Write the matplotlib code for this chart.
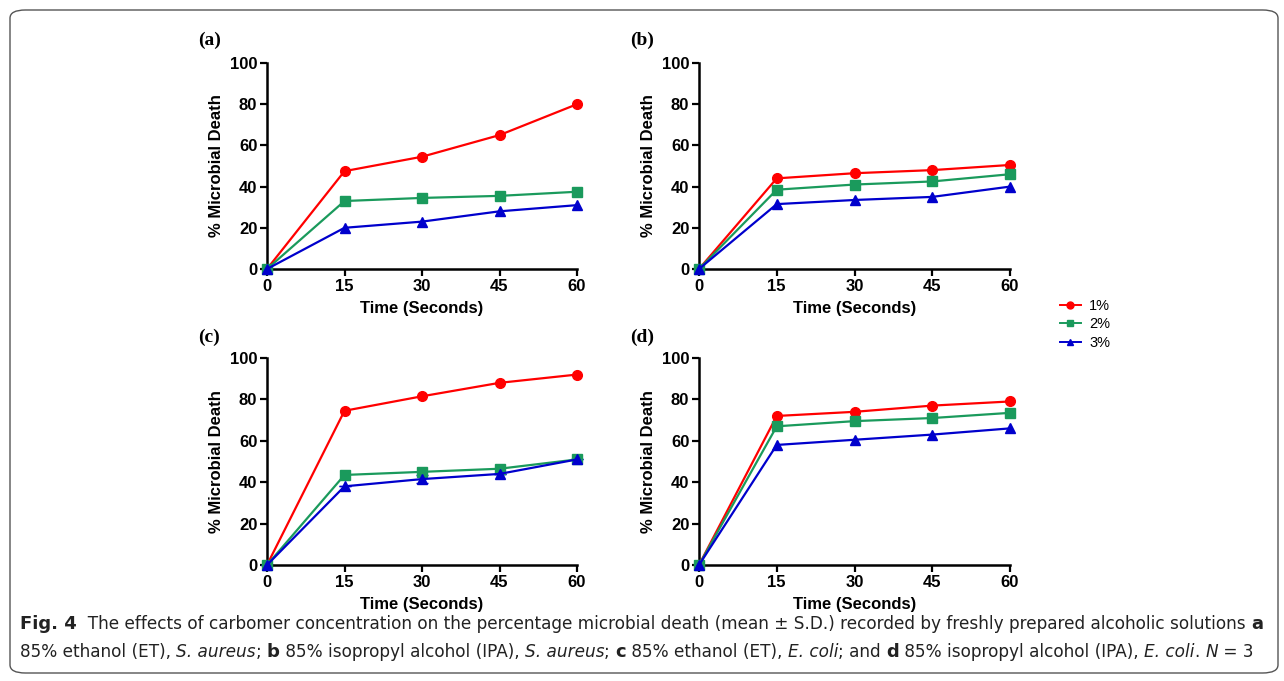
import matplotlib
matplotlib.use("Agg")
import matplotlib.pyplot as plt
from matplotlib.patches import FancyBboxPatch
from matplotlib.lines import Line2D

time_s = [0, 15, 30, 45, 60]
series_labels = ["1%", "2%", "3%"]
panel_labels = ["(a)", "(b)", "(c)", "(d)"]

a_1 = [0, 47.5, 54.5, 65, 80]
a_2 = [0, 33, 34.5, 35.5, 37.5]
a_3 = [0, 20, 23, 28, 31]

b_1 = [0, 44, 46.5, 48, 50.5]
b_2 = [0, 38.5, 41, 42.5, 46]
b_3 = [0, 31.5, 33.5, 35, 40]

c_1 = [0, 74.5, 81.5, 88, 92]
c_2 = [0, 43.5, 45, 46.5, 51]
c_3 = [0, 38, 41.5, 44, 51]
c_3_err = [0, 0, 2, 0, 0]

d_1 = [0, 72, 74, 77, 79]
d_2 = [0, 67, 69.5, 71, 73.5]
d_3 = [0, 58, 60.5, 63, 66]

panels = [(a_1, a_2, a_3), (b_1, b_2, b_3), (c_1, c_2, c_3), (d_1, d_2, d_3)]

colors = ["#ff0000", "#1a9a5c", "#0000cc"]
markers = ["o", "s", "^"]

W, H = 1284, 681
fig = plt.figure(figsize=(W / 100, H / 100), dpi=100)

# frame
frame = FancyBboxPatch((10 / W, 8 / H), 1268 / W, 663 / H,
                       boxstyle="round,pad=0,rounding_size=0.012",
                       transform=fig.transFigure, fill=False,
                       edgecolor="#555555", linewidth=1.0)
fig.patches.append(frame)

ax_px = [(267, 577, 63, 269), (699, 1010, 63, 269),
         (267, 577, 358, 565), (699, 1010, 358, 565)]
lab_px = [(198, 40), (630, 40), (198, 337), (630, 337)]

sans = "Liberation Sans"
for i, (vals, (x0, x1, yt, yb)) in enumerate(zip(panels, ax_px)):
    ax = fig.add_axes([x0 / W, 1 - yb / H, (x1 - x0) / W, (yb - yt) / H])
    for j, v in enumerate(vals):
        ax.plot(time_s, v, color=colors[j], marker=markers[j], markersize=7,
                linewidth=1.6, clip_on=False, zorder=3 + j * 0.1,
                label=series_labels[j])
    if i == 2:
        ax.errorbar(time_s, c_3, yerr=c_3_err, fmt="none", ecolor=colors[2],
                    capsize=4, elinewidth=1.2, clip_on=False, zorder=2)
    ax.set_xlim(0, 60)
    ax.set_ylim(0, 100)
    ax.set_xticks(time_s)
    ax.set_yticks([0, 20, 40, 60, 80, 100])
    for s in ["top", "right"]:
        ax.spines[s].set_visible(False)
    for s in ["left", "bottom"]:
        ax.spines[s].set_linewidth(1.8)
    ax.tick_params(direction="out", length=5, width=1.6, labelsize=12, pad=2)
    for t in ax.get_xticklabels() + ax.get_yticklabels():
        t.set_fontweight("bold")
        t.set_fontfamily(sans)
    ax.set_xlabel("Time (Seconds)", fontsize=12, fontweight="bold",
                  fontfamily=sans, labelpad=5)
    ax.set_ylabel("% Microbial Death", fontsize=12, fontweight="bold",
                  fontfamily=sans, labelpad=4)
    lx, ly = lab_px[i]
    fig.text(lx / W, 1 - ly / H, panel_labels[i], fontsize=14, fontweight="bold",
             fontfamily="Liberation Serif", ha="left", va="center")

handles = [Line2D([0], [0], color=colors[j], marker=markers[j], markersize=5,
                  linewidth=1.4) for j in range(3)]
fig.legend(handles, series_labels, loc="upper left",
           bbox_to_anchor=(1047 / W, 1 - 286 / H), frameon=False,
           prop={"family": sans, "size": 10.5}, handlelength=1.4,
           handletextpad=0.6, labelspacing=0.3)

# caption with mixed styles
cap_font = ["DejaVu Sans"]
line1 = [("Fig. 4", "bold", "normal"),
         ("  The effects of carbomer concentration on the percentage microbial death (mean \u00b1 S.D.) recorded by freshly prepared alcoholic solutions ", "normal", "normal"),
         ("a", "bold", "normal")]
line2 = [("85% ethanol (ET), ", "normal", "normal"), ("S. aureus", "normal", "italic"),
         ("; ", "normal", "normal"), ("b", "bold", "normal"),
         (" 85% isopropyl alcohol (IPA), ", "normal", "normal"),
         ("S. aureus", "normal", "italic"), ("; ", "normal", "normal"),
         ("c", "bold", "normal"), (" 85% ethanol (ET), ", "normal", "normal"),
         ("E. coli", "normal", "italic"), ("; and ", "normal", "normal"),
         ("d", "bold", "normal"), (" 85% isopropyl alcohol (IPA), ", "normal", "normal"),
         ("E. coli", "normal", "italic"), (". ", "normal", "normal"),
         ("N", "normal", "italic"), (" = 3", "normal", "normal")]

renderer = fig.canvas.get_renderer()
for line, ypx in [(line1, 624), (line2, 652)]:
    x = 20
    for txt, wt, st in line:
        fs = 13 if wt == "bold" else 12.2
        t = fig.text(x / W, 1 - ypx / H, txt, fontsize=fs, fontweight=wt,
                     fontstyle=st, fontfamily=cap_font, color="#222222",
                     ha="left", va="center")
        bb = t.get_window_extent(renderer)
        x += bb.width

fig.savefig("out.png", dpi=100)
